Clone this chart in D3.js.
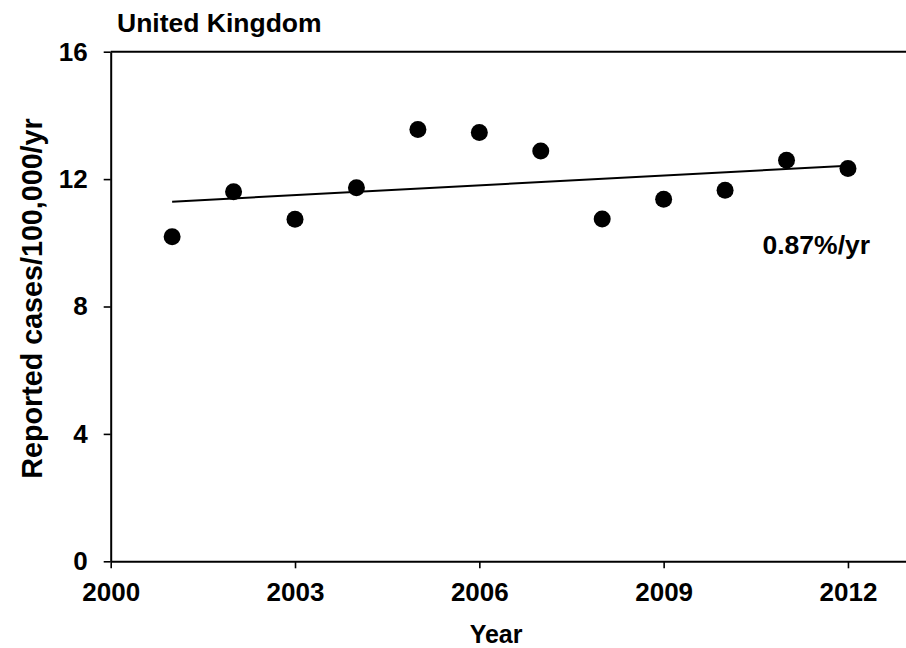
<!DOCTYPE html>
<html>
<head>
<meta charset="utf-8">
<script src="https://cdn.jsdelivr.net/npm/d3@7"></script>
<style>
  html, body { margin: 0; padding: 0; background: #fff; }
  svg { display: block; }
  text { font-family: "Liberation Sans", Arial, sans-serif; font-weight: bold; fill: #000; }
</style>
</head>
<body>
<svg id="chart" width="906" height="648"></svg>
<script>
// Reported cases per 100,000 per year, United Kingdom
const years = [2001, 2002, 2003, 2004, 2005, 2006, 2007, 2008, 2009, 2010, 2011, 2012];
const rates = [10.19, 11.60, 10.74, 11.73, 13.56, 13.46, 12.88, 10.75, 11.37, 11.65, 12.59, 12.33];

// Fitted trend, start and end
const trendYears = [2001, 2012];
const trendRates = [11.29, 12.42];

const xTicks = [2000, 2003, 2006, 2009, 2012];
const yTicks = [0, 4, 8, 12, 16];

const title = "United Kingdom";
const xTitle = "Year";
const yTitle = "Reported cases/100,000/yr";
const trendLabel = "0.87%/yr";

const svg = d3.select("#chart");
const plotLeft = 110.7, plotRight = 909.4, plotTop = 51.7, plotBottom = 561.3;

const x = d3.scaleLinear().domain([2000, 2013]).range([plotLeft, plotRight]);
const y = d3.scaleLinear().domain([0, 16]).range([plotBottom, plotTop]);

// Frame line along the top of the plot
svg.append("line")
  .attr("x1", x(2000)).attr("x2", x(2013))
  .attr("y1", y(16)).attr("y2", y(16))
  .attr("stroke", "#000").attr("stroke-width", 2);

const yAxis = svg.append("g")
  .attr("transform", `translate(${plotLeft},0)`)
  .call(d3.axisLeft(y).tickValues(yTicks).tickSize(7).tickPadding(16).tickSizeOuter(0));

const xAxis = svg.append("g")
  .attr("transform", `translate(0,${plotBottom})`)
  .call(d3.axisBottom(x).tickValues(xTicks).tickFormat(d3.format("d")).tickSize(7).tickPadding(14).tickSizeOuter(0));

[yAxis, xAxis].forEach(g => {
  g.select(".domain").attr("stroke", "#000").attr("stroke-width", 2);
  g.selectAll(".tick line").attr("stroke", "#000").attr("stroke-width", 1.6);
  g.selectAll(".tick text")
    .style("font-family", "'Liberation Sans', Arial, sans-serif")
    .style("font-weight", "bold")
    .style("font-size", "26px")
    .attr("fill", "#000");
});

// Trend line
svg.append("line")
  .attr("x1", x(trendYears[0])).attr("y1", y(trendRates[0]))
  .attr("x2", x(trendYears[1])).attr("y2", y(trendRates[1]))
  .attr("stroke", "#000").attr("stroke-width", 2);

// Yearly points
svg.append("g").selectAll("circle")
  .data(years.map((yr, i) => ({ yr, v: rates[i] })))
  .join("circle")
  .attr("cx", d => x(d.yr))
  .attr("cy", d => y(d.v))
  .attr("r", 8.5)
  .attr("fill", "#000");

svg.append("text")
  .attr("x", 117).attr("y", 32)
  .style("font-size", "26.5px")
  .text(title);

svg.append("text")
  .attr("x", 762.5).attr("y", 254)
  .style("font-size", "26.5px")
  .text(trendLabel);

svg.append("text")
  .attr("x", (plotLeft + x(2013)) / 2 - 14).attr("y", 643)
  .attr("text-anchor", "middle")
  .style("font-size", "25px")
  .text(xTitle);

svg.append("text")
  .attr("transform", `translate(41.5,${(plotTop + plotBottom) / 2 - 8}) rotate(-90)`)
  .attr("text-anchor", "middle")
  .style("font-size", "28.7px")
  .text(yTitle);
</script>
</body>
</html>
